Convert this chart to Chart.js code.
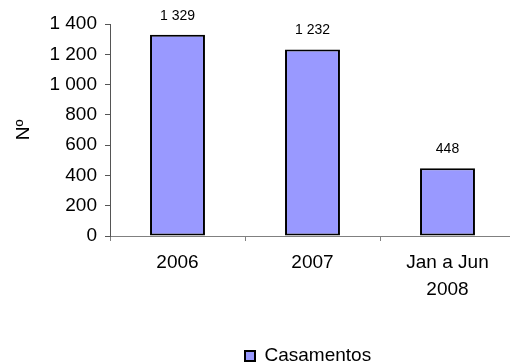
<!DOCTYPE html>
<html><head><meta charset="utf-8">
<script src="https://cdn.jsdelivr.net/npm/chart.js@4"></script>
<style>html,body{margin:0;padding:0;overflow:hidden;background:#fff}#wrap{width:520px;height:380px;position:relative}</style>
</head><body><div id="wrap"><canvas id="c"></canvas></div>
<script>
const categories = ["2006", "2007", ["Jan a Jun", "2008"]];
const casamentos = [1329, 1232, 448];
const seriesName = "Casamentos";
const yTicks = [0, 200, 400, 600, 800, 1000, 1200, 1400];
const yTitle = "Nº";

function fmt(v) { return String(v).replace(/\B(?=(\d{3})+(?!\d))/g, ' '); }
const FONT = '"Liberation Sans", Arial, sans-serif';
Chart.defaults.font.family = FONT;
Chart.defaults.color = '#000';

const dataLabels = {
  id: 'dataLabels',
  afterDatasetsDraw(chart) {
    const ctx = chart.ctx;
    const meta = chart.getDatasetMeta(0);
    ctx.save();
    ctx.font = '14px ' + FONT;
    ctx.fillStyle = '#000';
    ctx.textAlign = 'center';
    ctx.textBaseline = 'alphabetic';
    meta.data.forEach((bar, i) => ctx.fillText(fmt(casamentos[i]), bar.x, Math.max(bar.y - 15, 15)));
    ctx.restore();
  }
};
const legendShift = {
  id: 'legendShift',
  afterLayout(chart) {
    const l = chart.legend;
    if (!l || !l.lineWidths) return;
    const pad = l.options.labels.padding;
    const cur = (l.left + pad + l.right - l.lineWidths[0]) / 2;
    const dx = 245 - cur;
    l.left += dx; l.right += dx;
  }
};

new Chart(document.getElementById('c'), {
  type: 'bar',
  data: {
    labels: categories,
    datasets: [{
      label: seriesName,
      data: casamentos,
      backgroundColor: '#9999FF',
      borderColor: '#000',
      borderWidth: 2,
      borderSkipped: false,
      barPercentage: 0.407,
      categoryPercentage: 1
    }]
  },
  options: {
    responsive: true,
    maintainAspectRatio: false,
    animation: false,
    devicePixelRatio: 1,
    layout: { padding: { top: 24, right: 5, bottom: 4.5, left: 0 } },
    plugins: {
      legend: {
        position: 'bottom',
        labels: { font: { size: 19 }, boxWidth: 10, boxHeight: 10, padding: 10, color: '#000' }
      },
      tooltip: { enabled: false }
    },
    scales: {
      x: {
        grid: { drawOnChartArea: false, drawTicks: true, tickLength: 5, color: '#808080', offset: true },
        border: { color: '#808080', width: 1 },
        ticks: { font: { size: 19, lineHeight: 1.39 }, color: '#000', padding: 9, maxRotation: 0, autoSkip: false },
        afterFit(s) { s.height = 100.5; }
      },
      y: {
        min: 0, max: 1400,
        grid: { drawOnChartArea: false, drawTicks: true, tickLength: 5, color: '#555' },
        border: { color: '#555', width: 1 },
        ticks: { stepSize: 200, font: { size: 19 }, color: '#000', padding: 8, callback: v => fmt(v) },
        afterBuildTicks(s) { s.ticks = yTicks.map(v => ({ value: v })); },
        title: { display: true, text: yTitle, font: { size: 19 }, color: '#000', padding: { top: 12, bottom: 0 } },
        afterFit(s) { s.width = 110; }
      }
    }
  },
  plugins: [dataLabels, legendShift]
});
</script>
</body></html>
